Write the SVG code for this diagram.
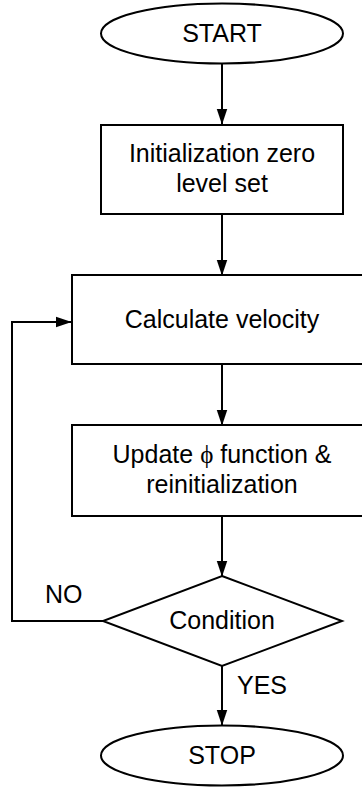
<svg xmlns="http://www.w3.org/2000/svg" width="362" height="787" viewBox="0 0 362 787">
  <defs>
    <marker id="arrow" markerWidth="16" markerHeight="24" refX="23" refY="8" viewBox="0 0 24 16" markerUnits="userSpaceOnUse" orient="auto">
      <path d="M0,0 L24,8 L0,16 Z" fill="#000"/>
    </marker>
    <style>
      .shape { fill: #fff; stroke: #000; stroke-width: 2; }
      .edge { fill: none; stroke: #000; stroke-width: 2; }
      .label { font-family: "Liberation Sans", Arial, sans-serif; font-size: 25px; fill: #000; text-anchor: middle; }
      .note { font-family: "Liberation Sans", Arial, sans-serif; font-size: 25px; fill: #000; }
      .sym { font-family: "Liberation Serif", "DejaVu Serif", serif; }
    </style>
  </defs>
  <rect width="362" height="787" fill="#fff"/>

  <g id="connectors">
    <line class="edge" x1="222" y1="64" x2="222" y2="124" marker-end="url(#arrow)"/>
    <line class="edge" x1="222" y1="214" x2="222" y2="275" marker-end="url(#arrow)"/>
    <line class="edge" x1="222" y1="364" x2="222" y2="425" marker-end="url(#arrow)"/>
    <line class="edge" x1="222" y1="516" x2="222" y2="576" marker-end="url(#arrow)"/>
    <line class="edge" x1="222" y1="666" x2="222" y2="725" marker-end="url(#arrow)"/>
    <polyline class="edge" points="103,621 12,621 12,322 71,322" marker-end="url(#arrow)"/>
    <text class="note" x="45" y="603">NO</text>
    <text class="note" x="237" y="694">YES</text>
  </g>

  <g id="start">
    <ellipse class="shape" cx="222" cy="33.5" rx="121" ry="30"/>
    <text class="label" x="222" y="42">START</text>
  </g>

  <g id="init">
    <rect class="shape" x="101" y="125" width="242" height="89"/>
    <text class="label" x="222" y="162">Initialization zero</text>
    <text class="label" x="222" y="192">level set</text>
  </g>

  <g id="velocity">
    <rect class="shape" x="72" y="275" width="300" height="89"/>
    <text class="label" x="222" y="328">Calculate velocity</text>
  </g>

  <g id="update">
    <rect class="shape" x="72" y="425" width="300" height="91"/>
    <text class="label" x="222" y="463">Update <tspan class="sym">ϕ</tspan> function &amp;</text>
    <text class="label" x="222" y="493">reinitialization</text>
  </g>

  <g id="condition">
    <polygon class="shape" points="222,576 342,621 222,666 103,621"/>
    <text class="label" x="222" y="629">Condition</text>
  </g>

  <g id="stop">
    <ellipse class="shape" cx="222" cy="755.5" rx="121" ry="30"/>
    <text class="label" x="222" y="764">STOP</text>
  </g>
</svg>
